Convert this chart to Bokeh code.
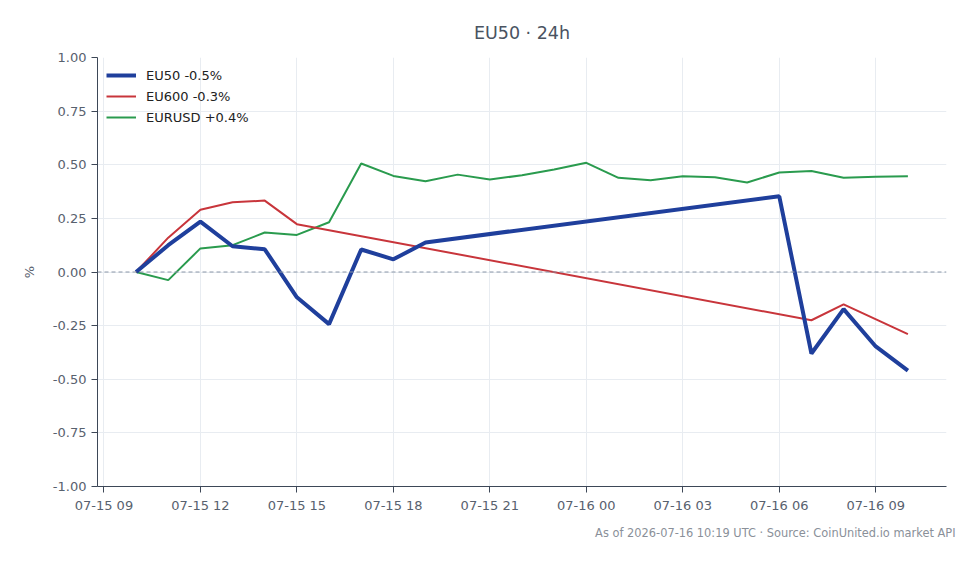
from datetime import datetime, timedelta
from bokeh.plotting import figure
from bokeh.models import (Legend, LegendItem, Span, Title, SingleIntervalTicker,
                          DatetimeTickFormatter, NumeralTickFormatter, Range1d, FixedTicker)
from bokeh.embed import file_html
from bokeh.resources import INLINE

start = datetime(2026, 7, 15, 10)

eu50_hours = [0, 1, 2, 3, 4, 5, 6, 7, 8, 9, 20, 21, 22, 23, 24]
eu50_values = [0.0, 0.125, 0.235, 0.12, 0.106, -0.118, -0.243, 0.105, 0.059, 0.138,
               0.353, -0.38, -0.173, -0.347, -0.46]

eu600_hours = [0, 1, 2, 3, 4, 5, 21, 22, 24]
eu600_values = [0.0, 0.16, 0.29, 0.325, 0.333, 0.223, -0.225, -0.151, -0.29]

eurusd_hours = list(range(25))
eurusd_values = [0.0, -0.038, 0.11, 0.125, 0.184, 0.173, 0.232, 0.506, 0.448, 0.423,
                 0.454, 0.431, 0.451, 0.478, 0.509, 0.439, 0.428, 0.446, 0.442, 0.417,
                 0.464, 0.471, 0.439, 0.444, 0.446]

series_labels = ["EU50 -0.5%", "EU600 -0.3%", "EURUSD +0.4%"]
y_ticks = [-1.0, -0.75, -0.5, -0.25, 0.0, 0.25, 0.5, 0.75, 1.0]

title_text = "EU50 · 24h"
footer_text = "As of 2026-07-16 10:19 UTC · Source: CoinUnited.io market API"


def to_dt(hours):
    return [start + timedelta(hours=h) for h in hours]


FONT = "DejaVu Sans"

p = figure(width=978, height=564, x_axis_type="datetime", output_backend="svg",
           toolbar_location=None, y_range=Range1d(-1.0, 1.0),
           min_border_left=97, min_border_right=32, min_border_top=57, min_border_bottom=78)
p.outline_line_color = None
p.background_fill_color = "white"
p.border_fill_color = "white"

p.title.text = title_text
p.title.align = "center"
p.title.text_font = FONT
p.title.text_font_size = "17.5px"
p.title.text_font_style = "normal"
p.title.text_color = "#4a5361"
p.title.standoff = 29

# zero line
p.add_layout(Span(location=0, dimension="width", line_color="#8a96a8",
                  line_dash="4 3", line_width=1))

r_green = p.line(to_dt(eurusd_hours), eurusd_values, line_color="#2a9b4e", line_width=2)
r_red = p.line(to_dt(eu600_hours), eu600_values, line_color="#c8353b", line_width=2)
r_blue = p.line(to_dt(eu50_hours), eu50_values, line_color="#1f3f9c", line_width=4)

legend = Legend(items=[LegendItem(label=series_labels[0], renderers=[r_blue]),
                       LegendItem(label=series_labels[1], renderers=[r_red]),
                       LegendItem(label=series_labels[2], renderers=[r_green])],
                location="top_left")
legend.border_line_color = None
legend.background_fill_alpha = 0.0
legend.label_text_font = FONT
legend.label_text_font_size = "13px"
legend.label_text_color = "#222222"
legend.glyph_width = 30
legend.glyph_height = 18
legend.spacing = 3
legend.margin = 9
legend.padding = 5
legend.label_standoff = 10
p.add_layout(legend)

# axes
for ax in (p.xaxis[0], p.yaxis[0]):
    ax.axis_line_color = "#3d4757"
    ax.major_tick_line_color = "#3d4757"
    ax.minor_tick_line_color = None
    ax.major_tick_out = 6
    ax.major_tick_in = 0
    ax.major_label_text_font = FONT
    ax.major_label_text_font_size = "13px"
    ax.major_label_text_color = "#58616e"
    ax.axis_label_text_font = FONT
    ax.axis_label_text_font_size = "13px"
    ax.axis_label_text_color = "#58616e"
    ax.axis_label_text_font_style = "normal"

p.xaxis[0].ticker = SingleIntervalTicker(interval=3 * 3600 * 1000, num_minor_ticks=0)
p.xaxis[0].formatter = DatetimeTickFormatter(hours="%m-%d %H", days="%m-%d %H",
                                             hourmin="%m-%d %H")
p.yaxis[0].ticker = FixedTicker(ticks=y_ticks)
p.yaxis[0].formatter = NumeralTickFormatter(format="0.00")
p.yaxis[0].axis_label = "%"
p.yaxis[0].axis_label_standoff = 13

p.xgrid.grid_line_color = "#e8ecf1"
p.ygrid.grid_line_color = "#e8ecf1"
p.xgrid.ticker = p.xaxis[0].ticker
p.ygrid.ticker = p.yaxis[0].ticker

footer = Title(text=footer_text, align="right", text_font=FONT, text_font_size="11.4px",
               text_color="#8a9099", text_font_style="normal", offset=-9, standoff=17)
p.add_layout(footer, "below")

open("out.html", "w").write(file_html(p, INLINE))
